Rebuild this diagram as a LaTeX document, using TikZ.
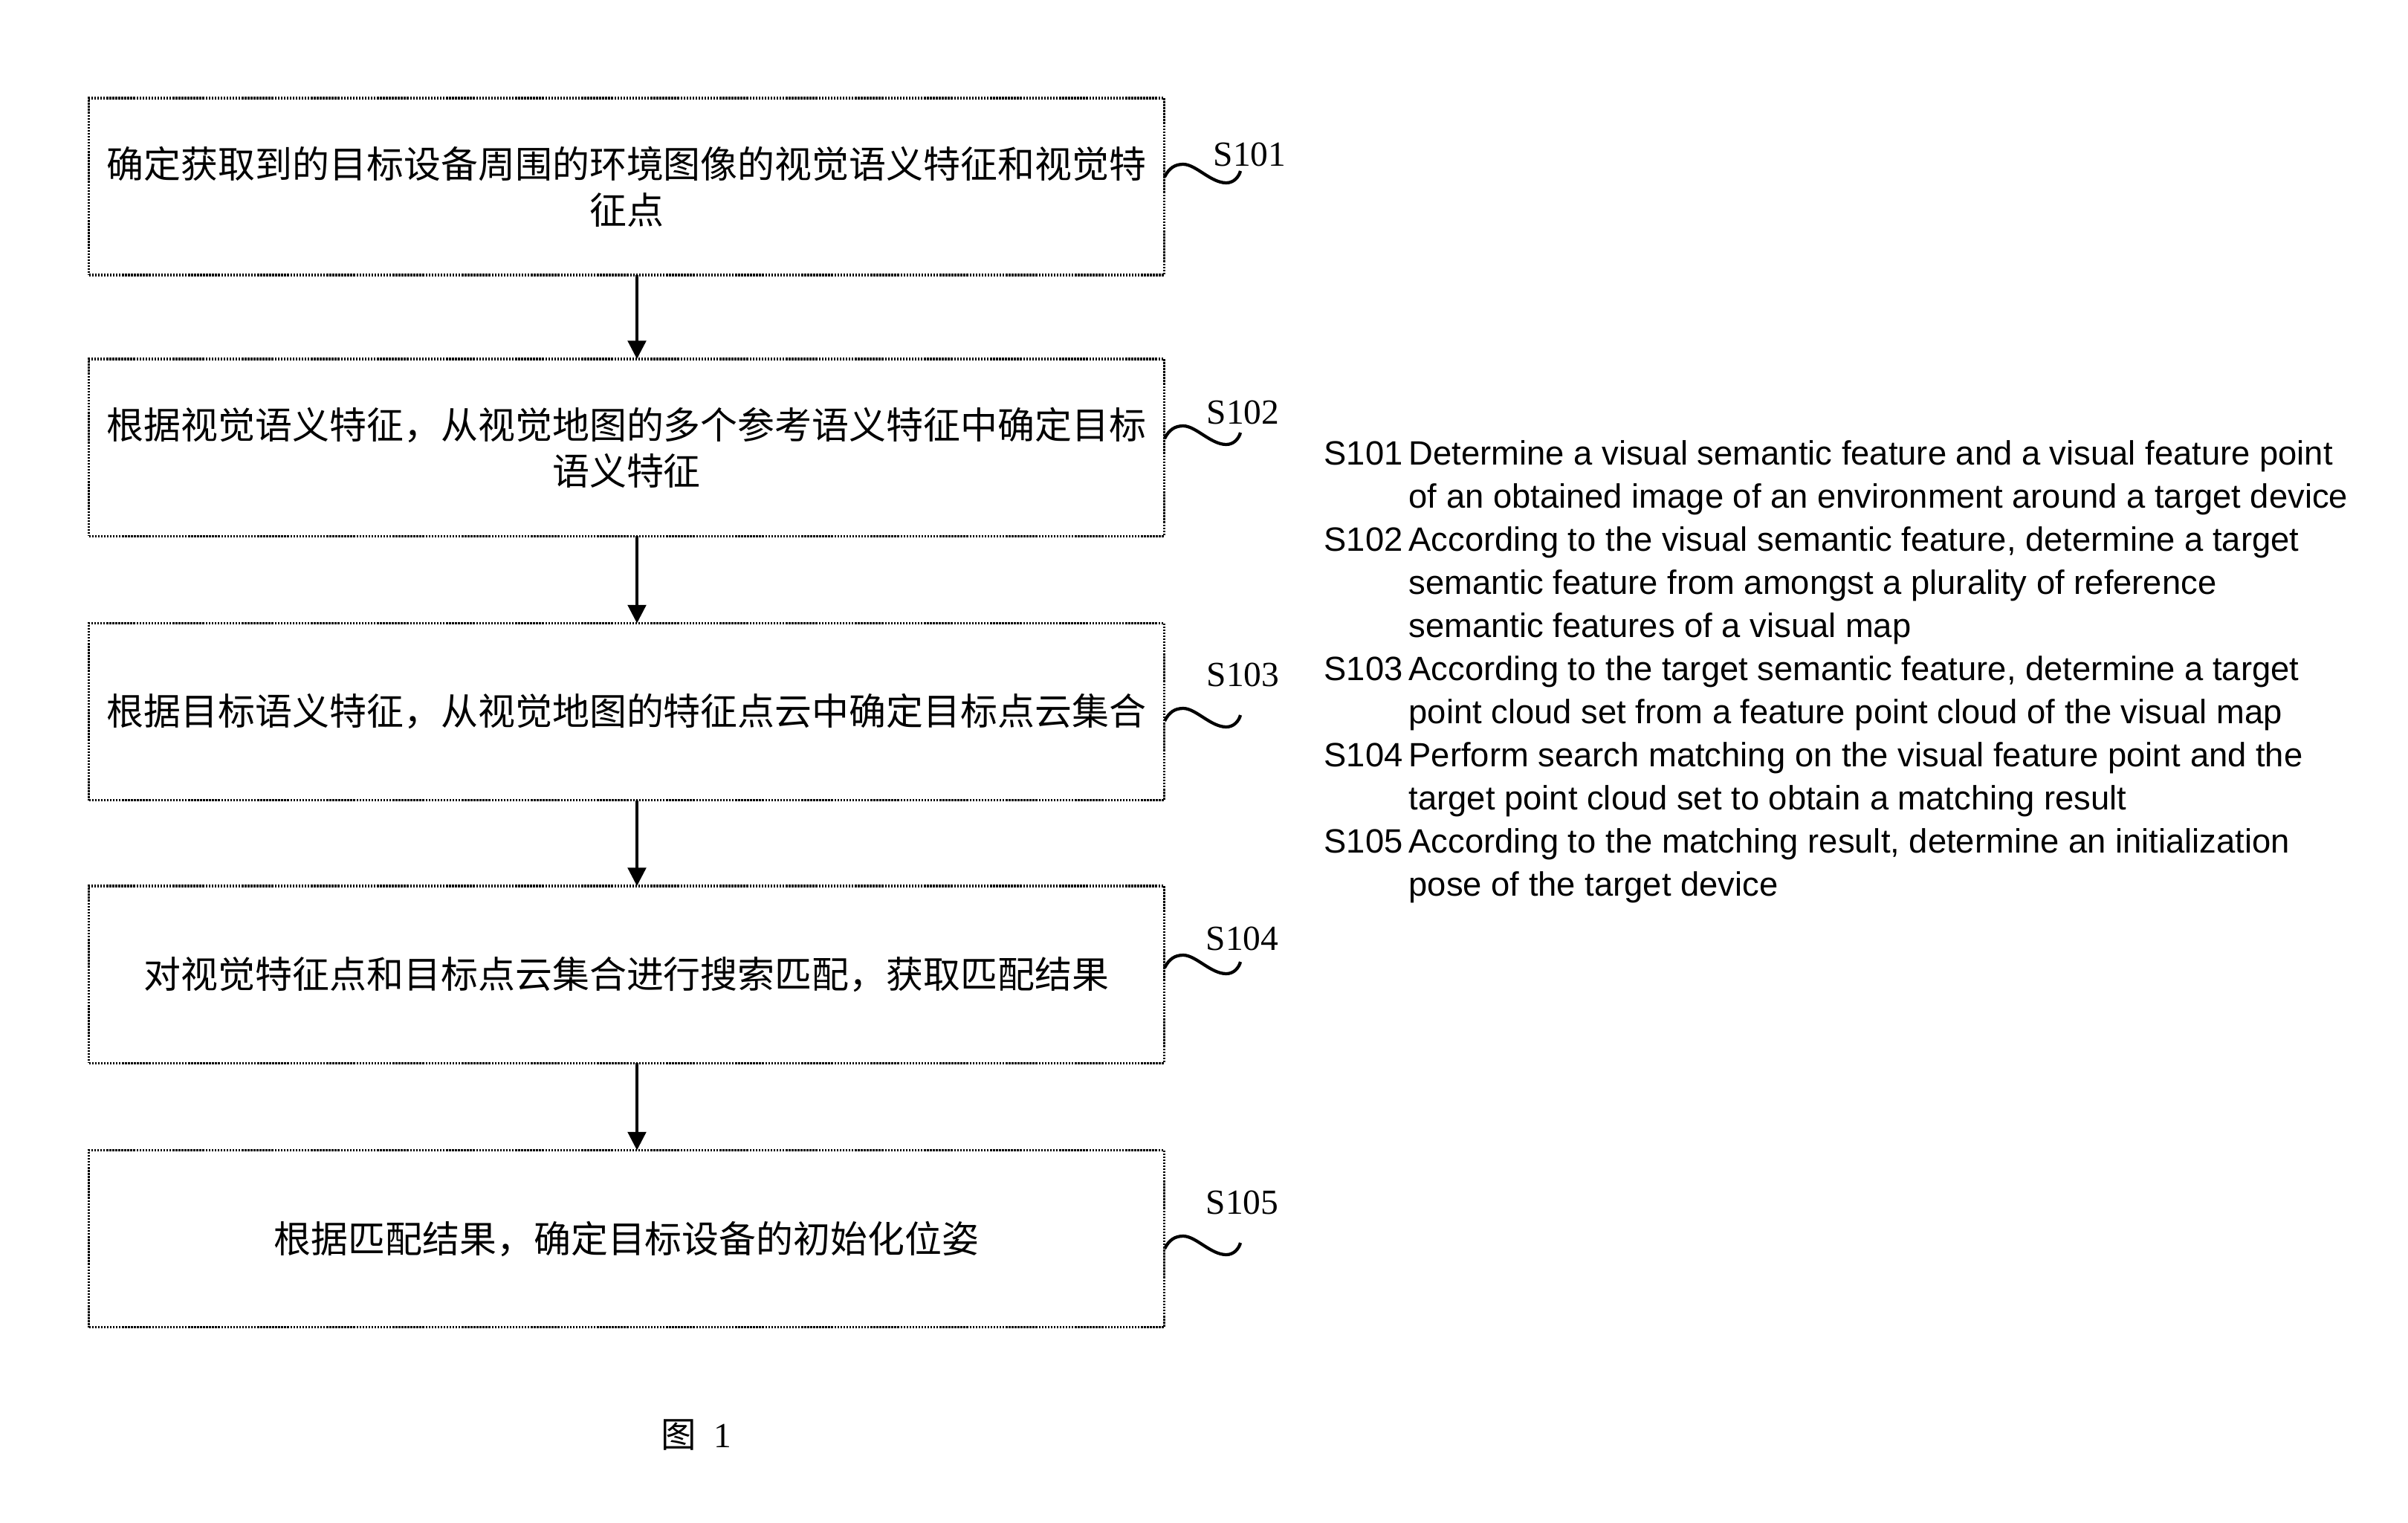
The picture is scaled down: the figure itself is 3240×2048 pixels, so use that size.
\documentclass[tikz,border=0pt]{standalone}
\usepackage{fontspec}
\setmainfont{Liberation Serif}
\newfontfamily\cjk{Noto Sans CJK SC}
\newfontfamily\ensans{Liberation Sans}
\usetikzlibrary{arrows.meta}
\begin{document}
\begin{tikzpicture}[x=0.01cm,y=-0.01cm,
  stepbox/.style={draw, line width=0.9pt, dash pattern=on 0.7pt off 0.45pt,
    minimum width=14.46cm, minimum height=2.38cm, inner sep=0pt, outer sep=0pt,
    align=center, font=\cjk\fontsize{14.2pt}{17.6pt}\selectfont},
  arr/.style={line width=1pt, -{Triangle[length=7pt,width=7pt]}},
  slabel/.style={anchor=base west, inner sep=0pt, font=\fontsize{13.5pt}{16pt}\selectfont},
  entxt/.style={anchor=base west, inner sep=0pt, font=\ensans\fontsize{12.9pt}{16.5pt}\selectfont},
  squig/.pic={\draw[line width=1.2pt] (0,0) .. controls (6,-12) and (14,-17) .. (25,-17)
     .. controls (42,-17) and (62,8) .. (83,8) .. controls (93,8) and (100,0) .. (102,-8);}
]
\useasboundingbox (0,0) rectangle (3240,2048);

\node[stepbox] (b1) at (843,251) {确定获取到的目标设备周围的环境图像的视觉语义特征和视觉特\\征点};
\node[stepbox] (b2) at (843,602) {根据视觉语义特征，从视觉地图的多个参考语义特征中确定目标\\语义特征};
\node[stepbox] (b3) at (843,957.5) {根据目标语义特征，从视觉地图的特征点云中确定目标点云集合};
\node[stepbox] (b4) at (843,1311) {对视觉特征点和目标点云集合进行搜索匹配，获取匹配结果};
\node[stepbox] (b5) at (843,1666.5) {根据匹配结果，确定目标设备的初始化位姿};

\draw[arr] ([xshift=0.14cm]b1.south) -- ([xshift=0.14cm]b2.north);
\draw[arr] ([xshift=0.14cm]b2.south) -- ([xshift=0.14cm]b3.north);
\draw[arr] ([xshift=0.14cm]b3.south) -- ([xshift=0.14cm]b4.north);
\draw[arr] ([xshift=0.14cm]b4.south) -- ([xshift=0.14cm]b5.north);

\pic at (1567,238) {squig};
\pic at (1567,590) {squig};
\pic at (1567,970) {squig};
\pic at (1567,1302) {squig};
\pic at (1567,1680) {squig};

\node[slabel] (s1) at (1632,223) {S101};
\node[slabel] (s2) at (1623,570) {S102};
\node[slabel] (s3) at (1623,923) {S103};
\node[slabel] (s4) at (1622,1278) {S104};
\node[slabel] (s5) at (1622,1633) {S105};

\node[entxt] (e1) at (1781,625) {S101};
\node[entxt] (e1a) at (1895,625) {Determine a visual semantic feature and a visual feature point};
\node[entxt] (e1b) at (1895,683) {of an obtained image of an environment around a target device};
\node[entxt] (e2) at (1781,741) {S102};
\node[entxt] (e2a) at (1895,741) {According to the visual semantic feature, determine a target};
\node[entxt] (e2b) at (1895,799) {semantic feature from amongst a plurality of reference};
\node[entxt] (e2c) at (1895,857) {semantic features of a visual map};
\node[entxt] (e3) at (1781,915) {S103};
\node[entxt] (e3a) at (1895,915) {According to the target semantic feature, determine a target};
\node[entxt] (e3b) at (1895,973) {point cloud set from a feature point cloud of the visual map};
\node[entxt] (e4) at (1781,1031) {S104};
\node[entxt] (e4a) at (1895,1031) {Perform search matching on the visual feature point and the};
\node[entxt] (e4b) at (1895,1089) {target point cloud set to obtain a matching result};
\node[entxt] (e5) at (1781,1147) {S105};
\node[entxt] (e5a) at (1895,1147) {According to the matching result, determine an initialization};
\node[entxt] (e5b) at (1895,1205) {pose of the target device};

\node[inner sep=0pt, font=\fontsize{13.5pt}{16pt}\selectfont] (cap) at (937,1930) {{\cjk 图}\hspace{0.5em}1};
\end{tikzpicture}
\end{document}
